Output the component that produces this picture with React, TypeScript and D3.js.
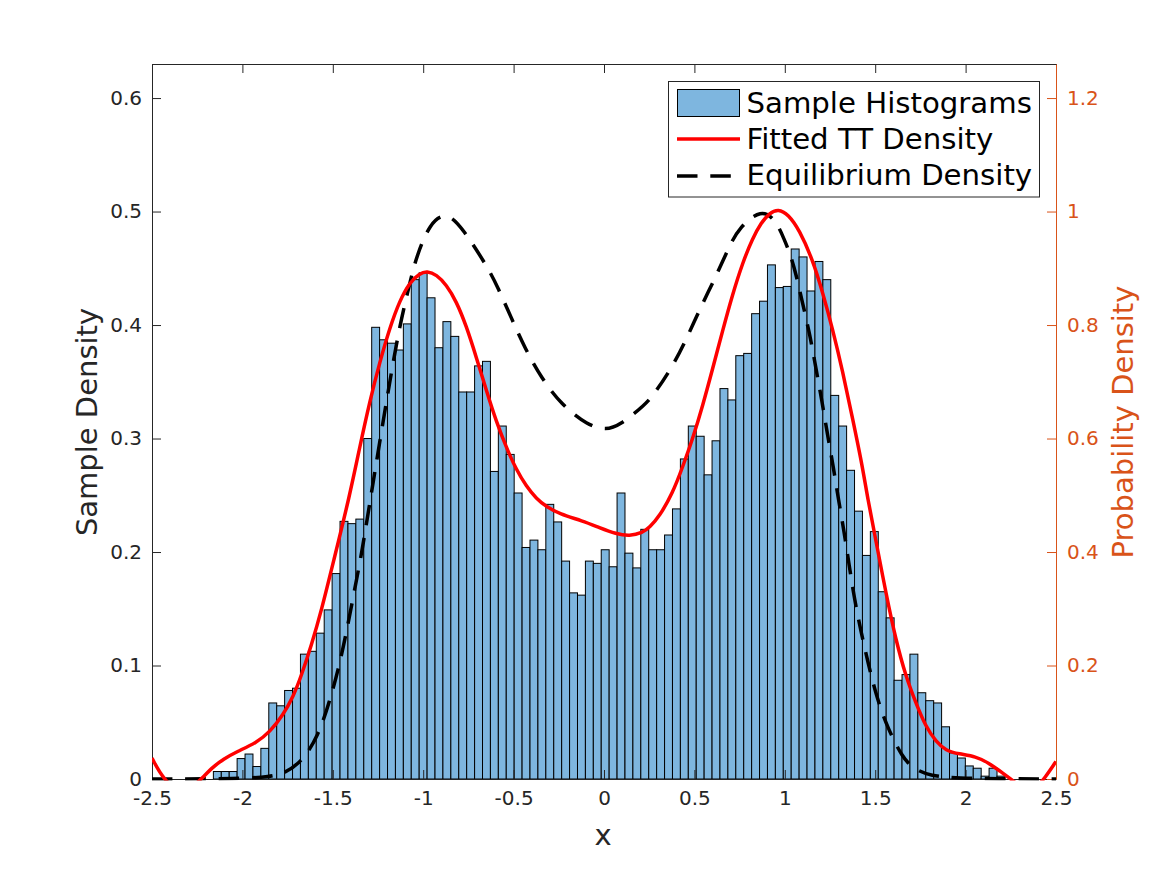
import React, { useEffect, useRef } from 'react';
import * as d3 from 'd3';

const binStart = -2.1605;
const binWidth = 0.04378;

// sample density per bin, left axis
const histValues = [
  0.0066, 0.0066, 0.0066, 0.018, 0.022, 0.011, 0.027, 0.067, 0.0645, 0.078,
  0.08, 0.11, 0.1125, 0.1285, 0.149, 0.181, 0.227, 0.225, 0.229, 0.3,
  0.398, 0.387, 0.384, 0.378, 0.401, 0.44, 0.446, 0.424, 0.38, 0.403,
  0.39, 0.341, 0.341, 0.364, 0.368, 0.271, 0.311, 0.286, 0.252, 0.204,
  0.2105, 0.202, 0.242, 0.2265, 0.192, 0.164, 0.162, 0.192, 0.19, 0.202,
  0.187, 0.252, 0.199, 0.186, 0.22, 0.202, 0.202, 0.215, 0.238, 0.282,
  0.311, 0.302, 0.268, 0.298, 0.344, 0.334, 0.373, 0.375, 0.41, 0.421,
  0.453, 0.433, 0.434, 0.467, 0.46, 0.43, 0.456, 0.44, 0.338, 0.311,
  0.272, 0.236, 0.197, 0.218, 0.165, 0.142, 0.087, 0.092, 0.11, 0.076,
  0.069, 0.067, 0.046, 0.023, 0.0185, 0.0115, 0.0095, 0.0025, 0.0095, 0.0025,
];

// [x, density]
const fittedDensity: [number, number][] = [
  [-2.5, 0.037], [-2.44, 0], [-2.33, -0.03], [-2.27, -0.012], [-2.225, 0.001], [-2.161, 0.0217], [-2.106, 0.035],
  [-2.032, 0.048], [-1.922, 0.064], [-1.848, 0.083], [-1.775, 0.113], [-1.719, 0.145], [-1.673, 0.183],
  [-1.618, 0.236], [-1.562, 0.298], [-1.498, 0.381], [-1.406, 0.5], [-1.351, 0.585], [-1.296, 0.665],
  [-1.24, 0.735], [-1.185, 0.795], [-1.13, 0.843], [-1.075, 0.875], [-1.019, 0.891], [-0.979, 0.895],
  [-0.927, 0.889], [-0.872, 0.871], [-0.817, 0.842], [-0.761, 0.798], [-0.706, 0.743], [-0.651, 0.685],
  [-0.596, 0.63], [-0.54, 0.584], [-0.485, 0.545], [-0.43, 0.516], [-0.374, 0.494], [-0.319, 0.48],
  [-0.246, 0.467], [-0.119, 0.455], [-0.025, 0.443], [0.067, 0.432], [0.141, 0.428], [0.214, 0.434],
  [0.251, 0.443], [0.307, 0.463], [0.38, 0.504], [0.435, 0.55], [0.491, 0.6], [0.546, 0.658],
  [0.601, 0.723], [0.656, 0.79], [0.712, 0.855], [0.767, 0.91], [0.822, 0.953], [0.869, 0.98],
  [0.914, 0.997], [0.964, 1.005], [1.019, 0.995], [1.08, 0.968], [1.154, 0.915], [1.209, 0.858],
  [1.265, 0.792], [1.319, 0.72], [1.375, 0.635], [1.43, 0.55], [1.458, 0.495], [1.504, 0.42],
  [1.559, 0.328], [1.614, 0.245], [1.67, 0.18], [1.725, 0.134], [1.78, 0.092], [1.836, 0.066],
  [1.891, 0.05], [1.964, 0.044], [2.056, 0.04], [2.13, 0.028], [2.194, 0.013], [2.25, 0],
  [2.33, -0.02], [2.4, -0.012], [2.434, 0], [2.5, 0.031],
];

const equilibriumDensity: [number, number][] = [
  [-2.5, 0], [-2.0, 0.0005], [-1.85, 0.004], [-1.765, 0.0101], [-1.682, 0.029], [-1.627, 0.052], [-1.583, 0.079],
  [-1.555, 0.101], [-1.517, 0.138], [-1.47, 0.192], [-1.424, 0.259], [-1.36, 0.366], [-1.341, 0.397],
  [-1.296, 0.485], [-1.24, 0.595], [-1.185, 0.7], [-1.13, 0.8], [-1.065, 0.886], [-1.037, 0.92],
  [-0.964, 0.98], [-0.87, 1.0], [-0.78, 0.97], [-0.636, 0.898], [-0.587, 0.866], [-0.513, 0.813],
  [-0.439, 0.76], [-0.347, 0.707], [-0.237, 0.66], [-0.09, 0.623], [0.012, 0.615], [0.086, 0.623],
  [0.229, 0.66], [0.279, 0.679], [0.38, 0.727], [0.463, 0.78], [0.537, 0.833], [0.62, 0.886],
  [0.693, 0.939], [0.749, 0.972], [0.87, 1.005], [0.95, 0.985], [0.997, 0.951], [1.03, 0.925], [1.062, 0.89],
  [1.098, 0.839], [1.14, 0.781], [1.172, 0.724], [1.206, 0.665], [1.236, 0.607], [1.268, 0.551],
  [1.297, 0.492], [1.329, 0.434], [1.356, 0.377], [1.384, 0.319], [1.421, 0.26], [1.461, 0.204],
  [1.507, 0.145], [1.568, 0.09], [1.651, 0.038], [1.706, 0.02], [1.798, 0.005], [2.0, 0.0005], [2.5, 0],
];

const xTicks = [-2.5, -2, -1.5, -1, -0.5, 0, 0.5, 1, 1.5, 2, 2.5];
const leftTicks = [0, 0.1, 0.2, 0.3, 0.4, 0.5, 0.6];
const rightTicks = [0, 0.2, 0.4, 0.6, 0.8, 1, 1.2];
const legendLabels = ['Sample Histograms', 'Fitted TT Density', 'Equilibrium Density'];

export default function App() {
  const svgRef = useRef<SVGSVGElement>(null);
  const width = 1167;
  const height = 875;

  useEffect(() => {
    if (!svgRef.current) return;
    const svg = d3.select(svgRef.current);
    svg.selectAll('*').remove();

    const font = '"DejaVu Sans", sans-serif';
    const colors = { bar: '#7eb6df', axis: '#262626', orange: '#d95319', red: '#ff0000' };
    const margin = { top: 64, right: 111, bottom: 96, left: 152 };
    const iWidth = width - margin.left - margin.right;
    const iHeight = height - margin.top - margin.bottom;

    const x = d3.scaleLinear().domain([-2.5, 2.5]).range([0, iWidth]);
    const yLeft = d3.scaleLinear().domain([0, 0.63]).range([iHeight, 0]);
    const yRight = d3.scaleLinear().domain([0, 1.26]).range([iHeight, 0]);

    svg.append('rect').attr('width', width).attr('height', height).attr('fill', '#fff');
    svg.append('defs').append('clipPath').attr('id', 'plot-clip')
      .append('rect').attr('x', 0).attr('y', 0).attr('width', iWidth).attr('height', iHeight + 1.5);

    const g = svg.append('g').attr('transform', `translate(${margin.left},${margin.top})`);

    g.append('g').selectAll('rect').data(histValues).join('rect')
      .attr('x', (_, i) => x(binStart + i * binWidth))
      .attr('y', d => yLeft(d))
      .attr('width', x(binWidth) - x(0))
      .attr('height', d => iHeight - yLeft(d))
      .attr('fill', colors.bar)
      .attr('stroke', '#000')
      .attr('stroke-width', 1);

    const styleAxis = (sel: any, color: string) => {
      sel.attr('color', color).style('font-family', font).style('font-size', '20px');
      sel.selectAll('.tick line').attr('stroke-width', 1);
      sel.select('.domain').attr('stroke-width', 1);
    };
    const fmt = (d: any) => String(d);

    g.append('g').attr('transform', `translate(0,${iHeight})`)
      .call(d3.axisBottom(x).tickValues(xTicks).tickSize(-9).tickPadding(12).tickSizeOuter(0).tickFormat(fmt))
      .call(styleAxis, colors.axis);
    g.append('g')
      .call(d3.axisTop(x).tickValues(xTicks).tickSize(-9).tickSizeOuter(0).tickFormat(() => ''))
      .call(styleAxis, colors.axis);
    g.append('g')
      .call(d3.axisLeft(yLeft).tickValues(leftTicks).tickSize(-9).tickPadding(10).tickSizeOuter(0).tickFormat(fmt))
      .call(styleAxis, colors.axis);
    g.append('g').attr('transform', `translate(${iWidth},0)`)
      .call(d3.axisRight(yRight).tickValues(rightTicks).tickSize(-9).tickPadding(11).tickSizeOuter(0).tickFormat(fmt))
      .call(styleAxis, colors.orange);

    const line = d3.line<[number, number]>().x(d => x(d[0])).y(d => yRight(d[1])).curve(d3.curveBasis);
    const curves = g.append('g').attr('clip-path', 'url(#plot-clip)');
    curves.append('path').attr('d', line(equilibriumDensity)).attr('fill', 'none')
      .attr('stroke', '#000').attr('stroke-width', 3.5).attr('stroke-dasharray', '20.5,12.8');
    curves.append('path').attr('d', line(fittedDensity)).attr('fill', 'none')
      .attr('stroke', colors.red).attr('stroke-width', 3.5);

    // axis titles
    svg.append('text').attr('x', 603).attr('y', 845).attr('text-anchor', 'middle').attr('fill', colors.axis)
      .style('font-family', font).style('font-size', '29px').text('x');
    svg.append('text').attr('transform', 'translate(97,422) rotate(-90)').attr('text-anchor', 'middle').attr('fill', colors.axis)
      .style('font-family', font).style('font-size', '29px').text('Sample Density');
    svg.append('text').attr('transform', 'translate(1133,422) rotate(-90)').attr('text-anchor', 'middle').attr('fill', colors.orange)
      .style('font-family', font).style('font-size', '29px').text('Probability Density');

    // legend
    const legend = svg.append('g');
    legend.append('rect').attr('x', 668.5).attr('y', 81.5).attr('width', 371).attr('height', 115.5)
      .attr('fill', '#fff').attr('stroke', colors.axis).attr('stroke-width', 1);
    legend.append('rect').attr('x', 677.5).attr('y', 89.5).attr('width', 62).attr('height', 27)
      .attr('fill', colors.bar).attr('stroke', '#000').attr('stroke-width', 1);
    legend.append('line').attr('x1', 677).attr('x2', 740).attr('y1', 139).attr('y2', 139)
      .attr('stroke', colors.red).attr('stroke-width', 3.5);
    legend.append('line').attr('x1', 677).attr('x2', 740).attr('y1', 176).attr('y2', 176)
      .attr('stroke', '#000').attr('stroke-width', 3.5).attr('stroke-dasharray', '20.5,12.8');
    legend.selectAll('text').data(legendLabels).join('text')
      .attr('x', 746.5).attr('y', (_, i) => 113 + i * 36.2)
      .attr('fill', '#000').style('font-family', font).style('font-size', '29.2px')
      .text(d => d);
  }, []);

  return <svg ref={svgRef} width={width} height={height} viewBox={`0 0 ${width} ${height}`} style={{ position: 'absolute', left: 0, top: 0 }} />;
}
